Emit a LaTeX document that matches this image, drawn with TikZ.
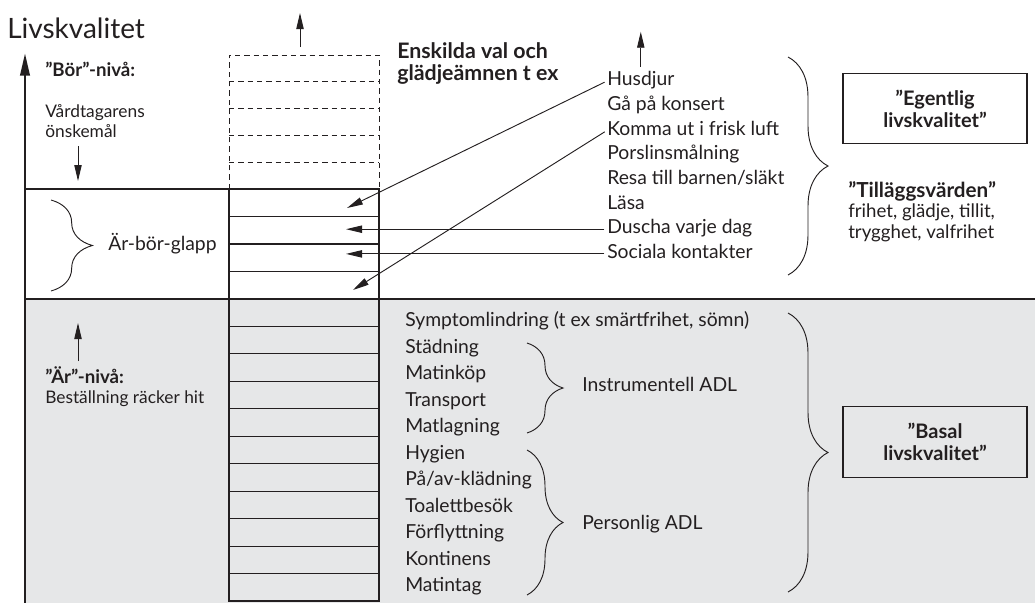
\documentclass[tikz,border=0pt]{standalone}
\usepackage{fontspec}
\setmainfont{Lato}
\usetikzlibrary{arrows.meta, decorations.pathreplacing, positioning}

\definecolor{lqgrey}{HTML}{E6E7E8}
\definecolor{lqink}{HTML}{231F20}

\tikzset{
  listtext/.style={anchor=west, inner sep=0pt, text height=10pt, text depth=3pt},
  smalltext/.style={anchor=north west, inner sep=0pt, align=left,
                    font=\fontsize{13}{15.5}\selectfont},
  headbox/.style={draw, line width=0.9pt, minimum width=138pt, minimum height=53pt,
                  align=center, font=\bfseries\fontsize{15}{16.5}\selectfont},
  lqbrace/.style={decorate, decoration={brace, amplitude=#1}, line width=0.7pt},
  arrowline/.style={line width=0.7pt, -{Triangle[length=12pt,width=5.5pt]}},
}

\begin{document}
\begin{tikzpicture}[x=0.75pt, y=-0.75pt, font=\fontsize{14.5}{16}\selectfont, lqink]
\useasboundingbox (0,0) rectangle (1035,603);

% ================================================ the grey "Är" band
\fill[lqgrey] (25,299) rectangle (1035,603);

% ========================================================== the column
% dashed part above the "Bör" line, five cells
\draw[line width=0.7pt, dash pattern=on 4pt off 3pt] (229,189) -- (229,55) -- (379,55) -- (379,189);
\foreach \k in {1,...,4}
  \draw[line width=0.7pt, dash pattern=on 4pt off 3pt] (229,{55+26.8*\k}) -- (379,{55+26.8*\k});
% solid part, four cells in the gap and eleven in the grey band
\draw[line width=0.9pt] (229,189) rectangle (379,601);
\foreach \k in {1,2,3}
  \draw[line width=0.8pt] (229,{189+27.5*\k}) -- (379,{189+27.5*\k});
\foreach \k in {1,...,10}
  \draw[line width=0.8pt] (229,{299+27.45*\k}) -- (379,{299+27.45*\k});

% ===================================================== levels and axis
\draw[line width=2pt] (25,189) -- (379,189);
\draw[line width=2pt] (25,299) -- (1035,299);
\draw[line width=2.2pt, -{Triangle[length=17pt,width=7pt]}] (25,603) -- (25,53);
\node[anchor=base west, inner sep=0pt, font=\fontsize{21}{24}\selectfont] (axislabel) at (7,38) {Livskvalitet};

\coordinate (coltop) at (300,47);
\draw[arrowline] (coltop) -- ++(0,-34);

% ====================================================== left-hand texts
\node[smalltext, font=\bfseries\fontsize{14}{15.5}\selectfont] (borlvl) at (45,62) {”Bör”-nivå:};
\node[smalltext] (borwish) at (45,104) {Vårdtagarens\\önskemål};
\coordinate (borarrow) at (78,146);
\draw[arrowline] (borarrow) -- ++(0,35);

\draw[lqbrace=31pt] (51,200) -- (51,291);
\node[listtext] (glapp) at (108,246) {Är-bör-glapp};

\coordinate (ararrow) at (78,361);
\draw[arrowline] (ararrow) -- ++(0,-38);
\node[smalltext] (arlvl) at (45,366) {{\bfseries\fontsize{14}{15.5}\selectfont ”Är”-nivå:}\\Beställning räcker hit};

% ==================================================== choices and joys
\node[anchor=north west, inner sep=0pt, align=left, font=\bfseries\fontsize{16}{17}\selectfont]
  (enskilda) at (397,42) {Enskilda val och\\glädjeämnen t ex};

\foreach \i/\name/\txt in {0/husdjur/Husdjur, 1/konsert/Gå på konsert,
    2/komma/Komma ut i frisk luft, 3/porslin/Porslinsmålning,
    4/resa/{Resa till barnen/släkt}, 5/lasa/Läsa, 6/duscha/Duscha varje dag,
    7/sociala/Sociala kontakter}
  \node[listtext] (\name) at (607,{81+24.7*\i}) {\txt};

\draw[arrowline] ([yshift=4pt]husdjur.north) -- ++(0,-35);

\coordinate (cellA) at (347,208);
\coordinate (cellD) at (353,290);
\coordinate (cellx) at (346,0);
\draw[arrowline, shorten <=2pt] (husdjur.west) -- (cellA);
\draw[arrowline, shorten <=2pt] (komma.west) -- (cellD);
\draw[arrowline, shorten <=2pt] (duscha.west) -- (duscha.west -| cellx);
\draw[arrowline, shorten <=2pt] (sociala.west) -- (sociala.west -| cellx);

\draw[lqbrace=30pt] (788,57) -- (788,275);
\node[headbox] (egentlig) at (935,108.5) {”Egentlig\\livskvalitet”};
\node[anchor=north west, inner sep=0pt, align=left, font=\fontsize{14}{15.5}\selectfont]
  (tillagg) at (848,181) {\textbf{\fontsize{15.5}{15.5}\selectfont ”Tilläggsvärden”}\\frihet, glädje, tillit,\\trygghet, valfrihet};

% ============================================================ basal ADL
\foreach \i/\txt in {0/{Symptomlindring (t ex smärtfrihet, sömn)}, 1/Städning, 2/Matinköp,
    3/Transport, 4/Matlagning, 5/Hygien, 6/{På/av-klädning}, 7/Toalettbesök,
    8/Förflyttning, 9/Kontinens, 10/Matintag}
  \node[listtext] (bas-\i) at (405,{322+26.5*\i}) {\txt};

\draw[lqbrace=27pt] (527,343) -- (527,433);
\node[listtext] (instr) at (582,387) {Instrumentell ADL};
\draw[lqbrace=27pt] (527,450) -- (527,595);
\node[listtext] (pers) at (582,525) {Personlig ADL};

\draw[lqbrace=30pt] (788,313) -- (788,592);
\node[headbox] (basal) at (935,442) {”Basal\\livskvalitet”};

\end{tikzpicture}
\end{document}
